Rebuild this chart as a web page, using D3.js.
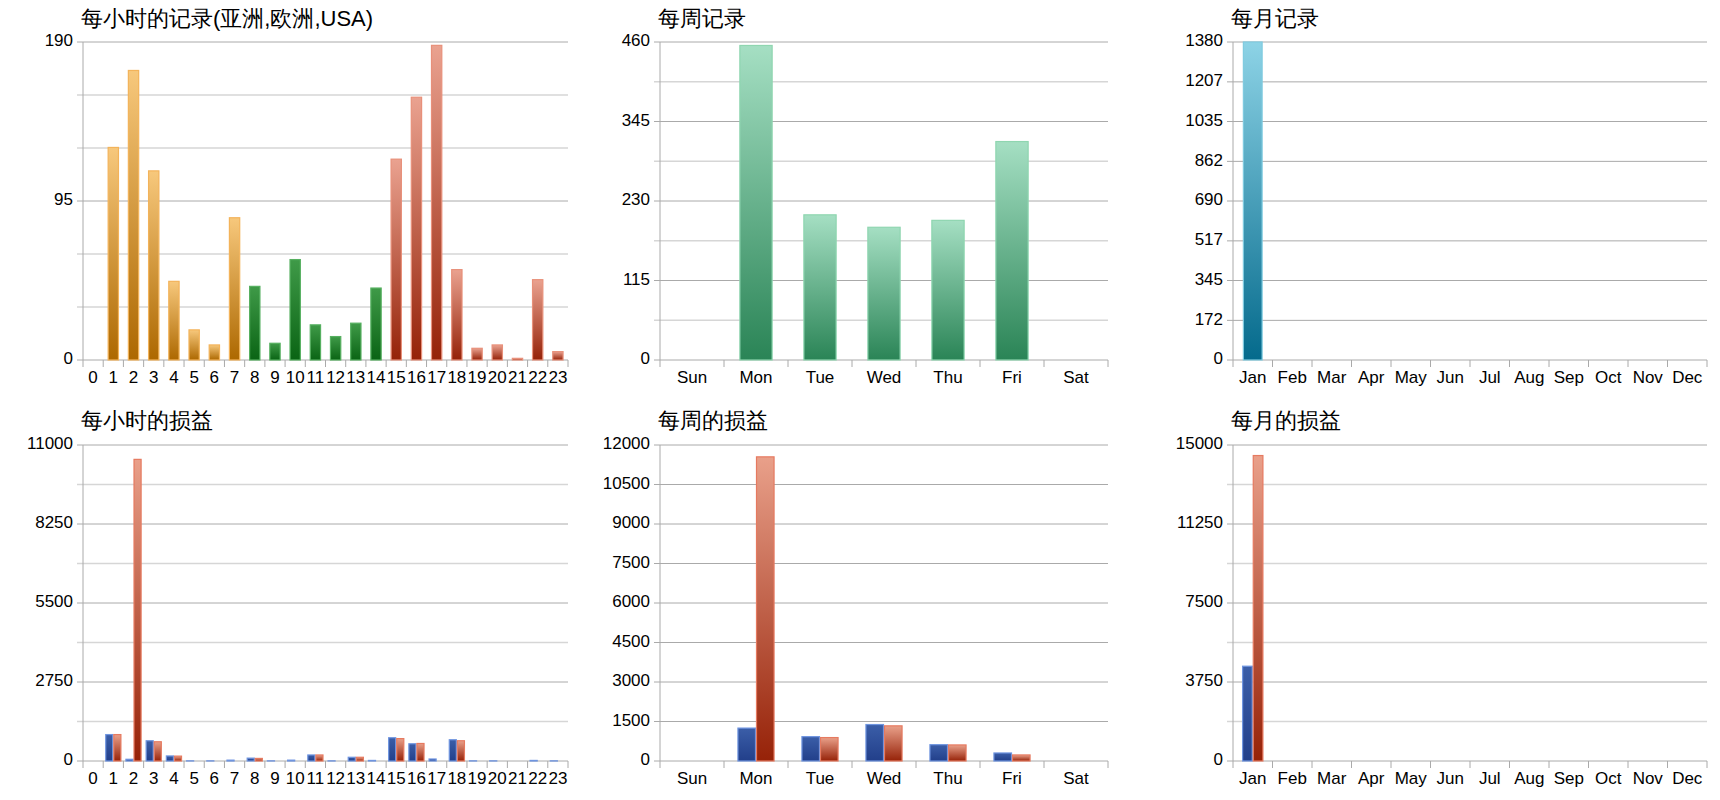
<!DOCTYPE html>
<html><head><meta charset="utf-8">
<script src="https://cdn.jsdelivr.net/npm/d3@7"></script>
<style>body{margin:0;background:#fff;font-family:"Liberation Sans",Arial,sans-serif}</style>
</head><body><svg id="c" width="1720" height="800"></svg>
<script>
var hours = d3.range(24).map(String);
var days = ['Sun','Mon','Tue','Wed','Thu','Fri','Sat'];
var months = ['Jan','Feb','Mar','Apr','May','Jun','Jul','Aug','Sep','Oct','Nov','Dec'];

var hourCount = [0,127,173,113,47,18,9,85,44,10,60,21,14,22,43,120,157,188,54,7,9,1,48,5];
var hourRegion = ['asia','asia','asia','asia','asia','asia','asia','asia','eu','eu','eu','eu','eu','eu','eu','us','us','us','us','us','us','us','us','us'];
var weekCount = [0,455,210,192,202,316,0];
var monthCount = [1380,0,0,0,0,0,0,0,0,0,0,0];

var hourPL1 = [0,920,60,705,176,5,5,30,100,5,30,210,5,130,20,810,600,70,740,5,5,0,20,5];
var hourPL2 = [0,920,10500,670,170,0,0,0,90,0,0,210,0,130,0,780,610,0,705,0,0,0,0,0];
var weekPL1 = [0,1250,925,1385,620,305,0];
var weekPL2 = [0,11550,890,1335,610,230,0];
var monthPL1 = [4500,0,0,0,0,0,0,0,0,0,0,0];
var monthPL2 = [14500,0,0,0,0,0,0,0,0,0,0,0];

var titles = ['每小时的记录(亚洲,欧洲,USA)','每周记录','每月记录','每小时的损益','每周的损益','每月的损益'];

var svg = d3.select('#c');
var defs = svg.append('defs');
function grad(id, top, bot){
  var g = defs.append('linearGradient').attr('id',id).attr('x1',0).attr('y1',0).attr('x2',0).attr('y2',1);
  g.append('stop').attr('offset','0%').attr('stop-color',top);
  g.append('stop').attr('offset','100%').attr('stop-color',bot);
}
grad('gAsia','#f7c87c','#ad6800');
grad('gEu','#3f9a48','#0a6414');
grad('gUs','#eaa290','#952208');
grad('gWeek','#a5dfc3','#2a8456');
grad('gMonth','#8dd3e6','#046a8c');
grad('gBlue','#3b5ea8','#223f8a');
grad('gRed','#e9a08a','#962208');
var regionFill = {asia:'url(#gAsia)',eu:'url(#gEu)',us:'url(#gUs)'};
var regionStroke = {asia:'#f3b35a',eu:'#56b060',us:'#e8907a'};

var cols = [{x0:83,x1:568},{x0:660,x1:1108},{x0:1233,x1:1707}];
var rows = [{y0:42,y1:360,title:20},{y0:445,y1:761,title:422}];

function panel(col,row,title,cats,max,ticks,minor,series,barFrac){
  var c = cols[col], r = rows[row];
  var g = svg.append('g');
  var x = d3.scaleBand().domain(cats).range([c.x0,c.x1]);
  var y = d3.scaleLinear().domain([0,max]).range([r.y1,r.y0]);
  g.append('text').attr('x',c.x0-2).attr('y',r.title).attr('dominant-baseline','middle')
    .attr('font-size',22).text(title);
  minor.forEach(function(v){
    g.append('line').attr('x1',c.x0-6).attr('x2',c.x1).attr('y1',y(v)).attr('y2',y(v))
      .attr('stroke','#d6d6d6').attr('stroke-width',1.3);
  });
  ticks.forEach(function(v){
    g.append('line').attr('x1',c.x0-6).attr('x2',c.x1).attr('y1',y(v)).attr('y2',y(v))
      .attr('stroke','#aaaaaa');
    g.append('text').attr('x',c.x0-10).attr('y',y(v)).attr('text-anchor','end')
      .attr('dominant-baseline','middle').attr('font-size',17).text(v);
  });
  g.append('line').attr('x1',c.x0).attr('x2',c.x0).attr('y1',r.y0).attr('y2',r.y1+7).attr('stroke','#aaaaaa');
  cats.forEach(function(k,i){
    g.append('line').attr('x1',x(k)+x.bandwidth()).attr('x2',x(k)+x.bandwidth())
      .attr('y1',r.y1).attr('y2',r.y1+7).attr('stroke','#aaaaaa');
    g.append('text').attr('x',x(k)+x.bandwidth()/2).attr('y',r.y1+23).attr('text-anchor','middle')
      .attr('font-size',17).text(k);
  });
  var n = series.length;
  var bw = x.bandwidth()*barFrac;
  series.forEach(function(s,si){
    cats.forEach(function(k,i){
      var v = s.values[i];
      if(!v) return;
      var bx = x(k)+x.bandwidth()/2 - bw*n/2 + si*bw;
      g.append('rect').attr('x',bx+0.5).attr('y',y(v)).attr('width',bw-1)
        .attr('height',Math.max(0,y(0)-y(v)))
        .attr('fill',s.fill(i)).attr('stroke',s.stroke(i)).attr('stroke-width',1.2);
    });
  });
}

panel(0,0,titles[0],hours,190,[0,95,190],[31.67,63.33,126.67,158.33],
  [{values:hourCount,fill:function(i){return regionFill[hourRegion[i]];},stroke:function(i){return regionStroke[hourRegion[i]];}}],0.56);
panel(1,0,titles[1],days,460,[0,115,230,345,460],[57.5,172.5,287.5,402.5],
  [{values:weekCount,fill:function(){return 'url(#gWeek)';},stroke:function(){return '#8fd6b0';}}],0.52);
panel(2,0,titles[2],months,1380,[0,172,345,517,690,862,1035,1207,1380],[],
  [{values:monthCount,fill:function(){return 'url(#gMonth)';},stroke:function(){return '#7fcbe0';}}],0.5);

var blue = {fill:function(){return 'url(#gBlue)';},stroke:function(){return '#6f95e0';}};
var red = {fill:function(){return 'url(#gRed)';},stroke:function(){return '#e67a60';}};
panel(0,1,titles[3],hours,11000,[0,2750,5500,8250,11000],[1375,4125,6875,9625],
  [Object.assign({values:hourPL1},blue),Object.assign({values:hourPL2},red)],0.4);
panel(1,1,titles[4],days,12000,[0,1500,3000,4500,6000,7500,9000,10500,12000],[],
  [Object.assign({values:weekPL1},blue),Object.assign({values:weekPL2},red)],0.29);
panel(2,1,titles[5],months,15000,[0,3750,7500,11250,15000],[1875,5625,9375,13125],
  [Object.assign({values:monthPL1},blue),Object.assign({values:monthPL2},red)],0.27);
</script></body></html>
